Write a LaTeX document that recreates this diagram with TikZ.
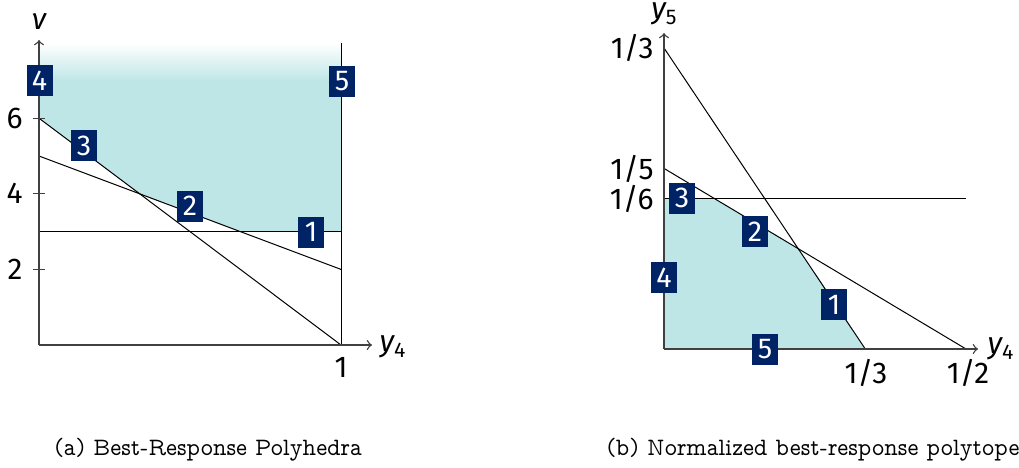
\documentclass[tikz,border=0pt]{standalone}
\usepackage{fontspec}
\newfontfamily\eul{Fira Sans}
\newfontfamily\capfont{lmmonoprop10-regular.otf}[FakeStretch=0.93]
\definecolor{regfill}{RGB}{190,230,230}
\definecolor{navybox}{RGB}{0,35,102}
\newcommand{\subl}[2]{{\itshape #1}\raisebox{-0.35ex}{\fontsize{8.5}{9}\selectfont #2}}
\tikzset{
  numbox/.style={fill=navybox,text=white,minimum width=10.4pt,minimum height=12.4pt,inner sep=0pt,font=\eul\fontsize{11.5}{12}\selectfont},
  axisline/.style={draw=black!75,line width=0.55pt},
  curveline/.style={draw=black,line width=0.4pt},
  lbl/.style={inner sep=0pt,font=\eul\fontsize{12}{13}\selectfont},
  captext/.style={inner sep=0pt,anchor=west,font=\capfont\fontsize{10}{12}\selectfont},
}
\begin{document}
\begin{tikzpicture}[x=0.4pt,y=-0.4pt]
\useasboundingbox (0,0) rectangle (1019,467);
% ---------- left plot ----------
\coordinate (A0) at (39,345);
\coordinate (Ay) at (39,40);
\coordinate (Ax) at (372,345);
\coordinate (A6) at (39,118.2);
\coordinate (A5) at (39,156);
\coordinate (A3) at (39,231.6);
\coordinate (B1) at (341,345);
\coordinate (B2) at (341,269.4);
\coordinate (B3) at (341,231.6);
\coordinate (Btop) at (341,43);
\coordinate (P1) at (139.7,193.8);
\coordinate (P2) at (240.3,231.6);
\fill[regfill] (A6) -- (P1) -- (P2) -- (B3) -- (341,80) -- (39,80) -- cycle;
\shade[top color=white,bottom color=regfill] (39,43) rectangle (341,81);
\draw[curveline] (A6) -- (B1);
\draw[curveline] (A5) -- (B2);
\draw[curveline] (A3) -- (B3);
\draw[curveline] (B1) -- (Btop);
\draw[axisline,->] (A0) -- (Ax);
\draw[axisline,->] (A0) -- (Ay);
\foreach \yy in {118.2,193.8,269.4} \draw[axisline] (33,\yy) -- (45,\yy);
\node[lbl] (nu) at (39,21) {\itshape ν};
\node[lbl,anchor=west] (ly4) at (379,347) {\subl{y}{4}};
\node[lbl] (lone) at (341,367) {1};
\node[lbl,anchor=east] (l6) at (23,118.2) {6};
\node[lbl,anchor=east] (l4) at (23,193.8) {4};
\node[lbl,anchor=east] (l2) at (23,269.4) {2};
\node[numbox] (a4) at (39.5,80.5) {4};
\node[numbox] (a5) at (342,81) {5};
\node[numbox] (a3) at (84,145.5) {3};
\node[numbox] (a2) at (190,206) {2};
\node[numbox] (a1) at (311,232) {1};
% ---------- right plot ----------
\coordinate (C0) at (664,349);
\coordinate (Cy) at (664,33);
\coordinate (Cx) at (978,349);
\coordinate (C13) at (664,48);
\coordinate (C15) at (664,168.4);
\coordinate (C16) at (664,198.5);
\coordinate (D13) at (865.3,349);
\coordinate (D12) at (966,349);
\coordinate (D16) at (966,198.5);
\coordinate (Q1) at (714.3,198.5);
\coordinate (Q2) at (798.2,248.7);
\fill[regfill] (C0) -- (C16) -- (Q1) -- (Q2) -- (D13) -- cycle;
\draw[curveline] (C13) -- (D13);
\draw[curveline] (C15) -- (D12);
\draw[curveline] (C16) -- (D16);
\draw[axisline,->] (C0) -- (Cx);
\draw[axisline,->] (C0) -- (Cy);
\node[lbl] (ry5) at (664,14) {\subl{y}{5}};
\node[lbl,anchor=west] (ry4) at (987,349) {\subl{y}{4}};
\node[lbl,anchor=east] (r13) at (654,48) {1/3};
\node[lbl,anchor=east] (r15) at (654,169) {1/5};
\node[lbl,anchor=east] (r16) at (654,198.5) {1/6};
\node[lbl] (x13) at (866,373) {1/3};
\node[lbl] (x12) at (968,373) {1/2};
\node[numbox] (b3) at (682,198) {3};
\node[numbox] (b2) at (755,231.5) {2};
\node[numbox] (b4) at (664,277.5) {4};
\node[numbox] (b1) at (834,304.5) {1};
\node[numbox] (b5) at (765,349.5) {5};
% ---------- captions ----------
\node[captext] (capa) at (54,450) {(a) Best-Response Polyhedra};
\node[captext] (capb) at (606,450) {(b) Normalized best-response polytope};
\end{tikzpicture}
\end{document}
